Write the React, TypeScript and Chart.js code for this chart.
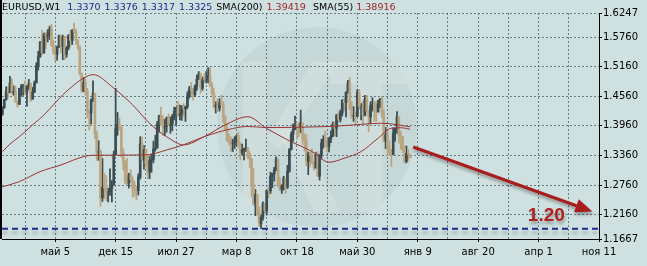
import { useEffect, useRef } from 'react';
import { Chart, registerables } from 'chart.js';
Chart.register(...registerables);

// week index 0 = 5 May 2008 (weekly bars)
const FIRST_WEEK = -28;
const X_MIN = -28.2;
const X_MAX = 288;

const opens = [
  1.4190, 1.4330, 1.4490, 1.4660, 1.4630, 1.4830, 1.4630, 1.4660, 1.4440, 1.4400,
  1.4720, 1.4750, 1.4780, 1.4640, 1.4760, 1.4820, 1.4500, 1.4650, 1.4830, 1.5180,
  1.5360, 1.5660, 1.5440, 1.5800, 1.5780, 1.5810, 1.5920, 1.5580, 1.5470, 1.5410,
  1.5560, 1.5790, 1.5570, 1.5770, 1.5410, 1.5540, 1.5790, 1.5690, 1.5900, 1.5860,
  1.5700, 1.5550, 1.5010, 1.4670, 1.4840, 1.4670, 1.4240, 1.4220, 1.4480, 1.4620,
  1.3800, 1.3420, 1.3440, 1.2500, 1.2720, 1.2700, 1.2620, 1.2620, 1.2690, 1.2760,
  1.3380, 1.3920, 1.3990, 1.3930, 1.3430, 1.3240, 1.2840, 1.2800, 1.2960, 1.2870,
  1.2690, 1.2660, 1.2650, 1.2920, 1.3590, 1.3270, 1.3480, 1.3190, 1.3020, 1.3260,
  1.3280, 1.3490, 1.3510, 1.3990, 1.4160, 1.3990, 1.3940, 1.3950, 1.4120, 1.3970,
  1.3990, 1.4150, 1.4250, 1.4330, 1.4180, 1.4200, 1.4320, 1.4300, 1.4350, 1.4570,
  1.4710, 1.4680, 1.4590, 1.4760, 1.4910, 1.5010, 1.4720, 1.4900, 1.4890, 1.4890,
  1.4980, 1.4780, 1.4610, 1.4350, 1.4380, 1.4320, 1.4410, 1.4380, 1.4140, 1.3870,
  1.3680, 1.3630, 1.3610, 1.3630, 1.3630, 1.3760, 1.3530, 1.3420, 1.3480, 1.3490,
  1.3510, 1.3370, 1.3290, 1.2760, 1.2390, 1.2570, 1.2250, 1.1970, 1.2110, 1.2380,
  1.2240, 1.2650, 1.2640, 1.2940, 1.2990, 1.3070, 1.3280, 1.2740, 1.2670, 1.2750,
  1.2900, 1.2720, 1.3040, 1.3480, 1.3790, 1.3890, 1.3960, 1.3950, 1.3940, 1.4020,
  1.3690, 1.3660, 1.3240, 1.3410, 1.3360, 1.3210, 1.3110, 1.3380, 1.2940, 1.3380,
  1.3610, 1.3690, 1.3590, 1.3540, 1.3700, 1.3750, 1.3990, 1.3910, 1.4180, 1.4090,
  1.4220, 1.4480, 1.4430, 1.4640, 1.4830, 1.4310, 1.4160, 1.4170, 1.4150, 1.4640,
  1.4350, 1.4350, 1.4170, 1.4500, 1.4260, 1.4140, 1.4370, 1.4400, 1.4280, 1.4240,
  1.4400, 1.4500, 1.4200, 1.3650, 1.3790, 1.3500, 1.3390, 1.3380, 1.3800, 1.3890,
  1.4140, 1.3760, 1.3740, 1.3520, 1.3240, 1.3400, 1.3370,
];

const highs = [
  1.4350, 1.4500, 1.4752, 1.4750, 1.4966, 1.4920, 1.4770, 1.4760, 1.4460, 1.4720,
  1.4800, 1.4800, 1.4870, 1.4780, 1.4900, 1.4830, 1.4740, 1.4870, 1.5240, 1.5470,
  1.5670, 1.5900, 1.5840, 1.5860, 1.5910, 1.5980, 1.6020, 1.5700, 1.5570, 1.5580,
  1.5800, 1.5800, 1.5800, 1.5780, 1.5570, 1.5810, 1.5900, 1.5910, 1.6040, 1.5920,
  1.5710, 1.5580, 1.5030, 1.4940, 1.4930, 1.4720, 1.4270, 1.4510, 1.4870, 1.4620,
  1.3860, 1.3660, 1.3470, 1.3300, 1.3000, 1.2950, 1.2700, 1.3090, 1.2850, 1.3450,
  1.4720, 1.4230, 1.4120, 1.3960, 1.3500, 1.3260, 1.3300, 1.3000, 1.3070, 1.2930,
  1.2830, 1.2740, 1.2990, 1.3740, 1.3740, 1.3560, 1.3490, 1.3380, 1.3340, 1.3390,
  1.3650, 1.3770, 1.4050, 1.4180, 1.4340, 1.4170, 1.4090, 1.4140, 1.4200, 1.4140,
  1.4190, 1.4340, 1.4330, 1.4450, 1.4380, 1.4370, 1.4410, 1.4360, 1.4650, 1.4760,
  1.4840, 1.4720, 1.4790, 1.4990, 1.5060, 1.5030, 1.4950, 1.5020, 1.5060, 1.5140,
  1.5140, 1.4840, 1.4720, 1.4450, 1.4510, 1.4510, 1.4580, 1.4450, 1.4170, 1.4000,
  1.3800, 1.3740, 1.3690, 1.3740, 1.3760, 1.3830, 1.3620, 1.3590, 1.3510, 1.3690,
  1.3520, 1.3440, 1.3300, 1.3100, 1.2670, 1.2570, 1.2320, 1.2160, 1.2420, 1.2390,
  1.2660, 1.2720, 1.3020, 1.3000, 1.3120, 1.3330, 1.3290, 1.2910, 1.2770, 1.2940,
  1.2900, 1.3160, 1.3500, 1.3840, 1.4000, 1.4160, 1.4000, 1.4030, 1.4280, 1.4020,
  1.3800, 1.3790, 1.3430, 1.3420, 1.3500, 1.3240, 1.3420, 1.3440, 1.3370, 1.3690,
  1.3760, 1.3860, 1.3700, 1.3720, 1.3860, 1.4040, 1.4040, 1.4190, 1.4250, 1.4280,
  1.4490, 1.4520, 1.4650, 1.4880, 1.4940, 1.4450, 1.4350, 1.4240, 1.4700, 1.4700,
  1.4410, 1.4460, 1.4580, 1.4580, 1.4280, 1.4450, 1.4530, 1.4460, 1.4460, 1.4480,
  1.4520, 1.4550, 1.4290, 1.3930, 1.3850, 1.3660, 1.3480, 1.3920, 1.3910, 1.4250,
  1.4140, 1.3850, 1.3750, 1.3550, 1.3550, 1.3480, 1.3376,
];

const lows = [
  1.4170, 1.4310, 1.4480, 1.4520, 1.4630, 1.4600, 1.4580, 1.4440, 1.4340, 1.4390,
  1.4560, 1.4580, 1.4600, 1.4360, 1.4700, 1.4450, 1.4500, 1.4630, 1.4830, 1.5090,
  1.5350, 1.5410, 1.5430, 1.5530, 1.5660, 1.5710, 1.5570, 1.5410, 1.5280, 1.5290,
  1.5550, 1.5440, 1.5300, 1.5300, 1.5350, 1.5500, 1.5560, 1.5610, 1.5840, 1.5610,
  1.5510, 1.4990, 1.4640, 1.4650, 1.4580, 1.4120, 1.3880, 1.4000, 1.4450, 1.3700,
  1.3260, 1.3260, 1.2330, 1.2430, 1.2490, 1.2450, 1.2420, 1.2550, 1.2420, 1.2760,
  1.3380, 1.3770, 1.3870, 1.3330, 1.3060, 1.2790, 1.2770, 1.2700, 1.2830, 1.2510,
  1.2530, 1.2460, 1.2560, 1.2880, 1.3250, 1.3080, 1.3130, 1.2890, 1.2890, 1.3020,
  1.3210, 1.3450, 1.3510, 1.3830, 1.3970, 1.3770, 1.3760, 1.3830, 1.3960, 1.3810,
  1.3860, 1.4080, 1.3980, 1.4150, 1.4080, 1.4070, 1.4140, 1.4050, 1.4310, 1.4520,
  1.4580, 1.4480, 1.4550, 1.4680, 1.4900, 1.4620, 1.4680, 1.4830, 1.4830, 1.4830,
  1.4760, 1.4580, 1.4320, 1.4220, 1.4250, 1.4260, 1.4380, 1.4030, 1.3860, 1.3640,
  1.3580, 1.3440, 1.3440, 1.3500, 1.3550, 1.3530, 1.3270, 1.3370, 1.3270, 1.3440,
  1.3290, 1.3120, 1.2520, 1.2350, 1.2140, 1.2150, 1.1920, 1.1877, 1.2050, 1.2190,
  1.2150, 1.2500, 1.2590, 1.2710, 1.2840, 1.3050, 1.2730, 1.2650, 1.2590, 1.2660,
  1.2590, 1.2690, 1.3020, 1.3470, 1.3650, 1.3880, 1.3690, 1.3740, 1.3820, 1.3580,
  1.3450, 1.3150, 1.2970, 1.3130, 1.3200, 1.3060, 1.3100, 1.2930, 1.2860, 1.3290,
  1.3510, 1.3540, 1.3430, 1.3430, 1.3620, 1.3740, 1.3760, 1.3740, 1.4030, 1.4040,
  1.4160, 1.4270, 1.4140, 1.4620, 1.4290, 1.4110, 1.4050, 1.3970, 1.4150, 1.4300,
  1.4080, 1.4000, 1.4160, 1.4240, 1.3840, 1.4010, 1.4260, 1.4050, 1.4050, 1.4240,
  1.4330, 1.4130, 1.3650, 1.3500, 1.3360, 1.3360, 1.3140, 1.3370, 1.3650, 1.3810,
  1.3610, 1.3480, 1.3420, 1.3210, 1.3210, 1.3260, 1.3317,
];

const closes = [
  1.4330, 1.4490, 1.4660, 1.4630, 1.4830, 1.4630, 1.4660, 1.4440, 1.4400, 1.4720,
  1.4750, 1.4780, 1.4640, 1.4760, 1.4820, 1.4500, 1.4650, 1.4830, 1.5180, 1.5360,
  1.5660, 1.5440, 1.5800, 1.5780, 1.5810, 1.5920, 1.5580, 1.5470, 1.5410, 1.5560,
  1.5790, 1.5570, 1.5770, 1.5410, 1.5540, 1.5790, 1.5690, 1.5900, 1.5860, 1.5700,
  1.5550, 1.5010, 1.4670, 1.4840, 1.4670, 1.4240, 1.4220, 1.4480, 1.4620, 1.3800,
  1.3420, 1.3440, 1.2500, 1.2720, 1.2700, 1.2620, 1.2620, 1.2690, 1.2760, 1.3380,
  1.3920, 1.3990, 1.3930, 1.3430, 1.3240, 1.2840, 1.2800, 1.2960, 1.2870, 1.2690,
  1.2660, 1.2650, 1.2920, 1.3590, 1.3270, 1.3480, 1.3190, 1.3020, 1.3260, 1.3280,
  1.3490, 1.3510, 1.3990, 1.4160, 1.3990, 1.3940, 1.3950, 1.4120, 1.3970, 1.3990,
  1.4150, 1.4250, 1.4330, 1.4180, 1.4200, 1.4320, 1.4300, 1.4350, 1.4570, 1.4710,
  1.4680, 1.4590, 1.4760, 1.4910, 1.5010, 1.4720, 1.4900, 1.4890, 1.4890, 1.4980,
  1.4780, 1.4610, 1.4350, 1.4380, 1.4320, 1.4410, 1.4380, 1.4140, 1.3870, 1.3680,
  1.3630, 1.3610, 1.3630, 1.3630, 1.3760, 1.3530, 1.3420, 1.3480, 1.3490, 1.3510,
  1.3370, 1.3290, 1.2760, 1.2390, 1.2570, 1.2250, 1.1970, 1.2110, 1.2380, 1.2240,
  1.2650, 1.2640, 1.2940, 1.2990, 1.3070, 1.3280, 1.2740, 1.2670, 1.2750, 1.2900,
  1.2720, 1.3040, 1.3480, 1.3790, 1.3890, 1.3960, 1.3950, 1.3940, 1.4020, 1.3690,
  1.3660, 1.3240, 1.3410, 1.3360, 1.3210, 1.3110, 1.3380, 1.2940, 1.3380, 1.3610,
  1.3690, 1.3590, 1.3540, 1.3700, 1.3750, 1.3990, 1.3910, 1.4180, 1.4090, 1.4220,
  1.4480, 1.4430, 1.4640, 1.4830, 1.4310, 1.4160, 1.4170, 1.4150, 1.4640, 1.4350,
  1.4350, 1.4170, 1.4500, 1.4260, 1.4140, 1.4370, 1.4400, 1.4280, 1.4240, 1.4400,
  1.4500, 1.4200, 1.3650, 1.3790, 1.3500, 1.3390, 1.3380, 1.3800, 1.3890, 1.4140,
  1.3760, 1.3740, 1.3520, 1.3240, 1.3400, 1.3380, 1.3325,
];

const sma200Weeks = [-28, -19, -8, 3, 15, 20, 48, 59, 68, 79, 94, 102, 112, 145, 156, 173, 188];
const sma200Values = [1.2724, 1.2830, 1.3033, 1.3167, 1.3337, 1.3364, 1.3370, 1.3471, 1.3577, 1.3743, 1.3906, 1.3947, 1.3926, 1.3947, 1.3973, 1.4013, 1.39419];

const sma55Weeks = [-28, -24, -19, -12, -6, -1, 4, 10, 15, 20, 31, 41, 49, 55, 59, 68, 79, 90, 102, 112, 124, 136, 145, 153, 162, 171, 178, 183, 188];
const sma55Values = [1.3435, 1.3590, 1.3740, 1.3979, 1.4179, 1.4385, 1.4588, 1.4791, 1.4927, 1.4998, 1.4724, 1.4385, 1.4048, 1.3845, 1.3739, 1.3573, 1.3743, 1.3979, 1.4145, 1.3906, 1.3658, 1.3439, 1.3222, 1.3303, 1.3439, 1.3709, 1.3912, 1.3922, 1.38916];

const supportLevel = 1.1876;
const arrowFrom = { x: 189.6, y: 1.3530 };
const arrowTo = { x: 284.5, y: 1.2225 };
const targetLabel = '1.20';
const targetPos = { x: 250.3, y: 1.2024 };

const gridWeeks = [-16, 0, 16, 32, 48, 64, 80, 96, 112, 128, 144, 160, 176, 192, 208, 224, 240, 256, 272, 288];
const labelWeeks = [0, 32, 64, 96, 128, 160, 192, 224, 256, 288];
const dateLabels = ['май 5', 'дек 15', 'июл 27', 'мар 8', 'окт 18', 'май 30', 'янв 9', 'авг 20', 'апр 1', 'ноя 11'];
const priceTicks = [1.1667, 1.2160, 1.2760, 1.3360, 1.3960, 1.4560, 1.5160, 1.5760, 1.6247];

const symbolLabel = 'EURUSD,W1';
const lastOHLC = ['1.3370', '1.3376', '1.3317', '1.3325'];
const sma200Label = 'SMA(200)';
const sma200Last = '1.39419';
const sma55Label = 'SMA(55)';
const sma55Last = '1.38916';

const BG = '#cfe0e0';
const UP = '#3a4d53';
const DOWN = '#bba580';
const FONT = '"DejaVu Sans", sans-serif';

export default function App() {
  const ref = useRef<HTMLCanvasElement>(null);
  useEffect(() => {
    document.body.style.margin = '0';
    const canvas = ref.current!;
    const weeks = opens.map((_, i) => FIRST_WEEK + i);
    const colors = closes.map((c, i) => (c >= opens[i] ? UP : DOWN));

    const bgPlugin = {
      id: 'mtBackground',
      beforeDraw(chart: any) {
        const { ctx, width, height } = chart;
        ctx.save();
        ctx.fillStyle = BG;
        ctx.fillRect(0, 0, width, height);
        // watermark logo (circle with light letter shapes)
        const cx = 317;
        const cy = 127;
        ctx.beginPath();
        ctx.arc(cx, cy, 100, 0, Math.PI * 2);
        ctx.fillStyle = 'rgba(150,170,170,0.15)';
        ctx.fill();
        ctx.clip();
        ctx.fillStyle = 'rgba(255,255,255,0.16)';
        // K
        ctx.fillRect(243, 62, 24, 150);
        ctx.beginPath();
        ctx.moveTo(267, 140);
        ctx.lineTo(312, 62);
        ctx.lineTo(338, 62);
        ctx.lineTo(280, 150);
        ctx.closePath();
        ctx.fill();
        ctx.beginPath();
        ctx.moveTo(278, 130);
        ctx.lineTo(300, 130);
        ctx.lineTo(340, 212);
        ctx.lineTo(314, 212);
        ctx.closePath();
        ctx.fill();
        // T
        ctx.fillRect(330, 62, 80, 22);
        ctx.fillRect(358, 84, 24, 128);
        ctx.restore();
      },
    };

    const overlayPlugin = {
      id: 'mtOverlay',
      beforeDatasetDraw(chart: any, args: any) {
        if (args.index === 4) {
          const ctx = chart.ctx;
          ctx.save();
          ctx.shadowColor = 'rgba(0,0,0,0.22)';
          ctx.shadowBlur = 3;
          ctx.shadowOffsetY = 4;
        }
      },
      afterDatasetDraw(chart: any, args: any) {
        if (args.index === 4) chart.ctx.restore();
      },
      afterDraw(chart: any) {
        const { ctx, scales, chartArea } = chart;
        const xs = scales.x;
        const ys = scales.y;
        ctx.save();
        // arrow
        const x1 = xs.getPixelForValue(arrowFrom.x);
        const y1 = ys.getPixelForValue(arrowFrom.y);
        const x2 = xs.getPixelForValue(arrowTo.x);
        const y2 = ys.getPixelForValue(arrowTo.y);
        const ang = Math.atan2(y2 - y1, x2 - x1);
        const headLen = 17;
        const headW = 7;
        ctx.shadowColor = 'rgba(0,0,0,0.3)';
        ctx.shadowBlur = 3;
        ctx.shadowOffsetX = 1;
        ctx.shadowOffsetY = 3;
        ctx.strokeStyle = '#a91d1d';
        ctx.fillStyle = '#a91d1d';
        ctx.lineWidth = 3.2;
        ctx.beginPath();
        ctx.moveTo(x1, y1);
        ctx.lineTo(x2 - headLen * Math.cos(ang), y2 - headLen * Math.sin(ang));
        ctx.stroke();
        ctx.beginPath();
        ctx.moveTo(x2, y2);
        const bx = x2 - headLen * Math.cos(ang);
        const by = y2 - headLen * Math.sin(ang);
        ctx.lineTo(bx + headW * Math.sin(ang), by - headW * Math.cos(ang));
        ctx.lineTo(bx - headW * Math.sin(ang), by + headW * Math.cos(ang));
        ctx.closePath();
        ctx.fill();
        // target text
        ctx.font = 'bold 19px "Liberation Sans", sans-serif';
        ctx.textBaseline = 'alphabetic';
        ctx.textAlign = 'left';
        ctx.fillStyle = '#b02020';
        ctx.fillText(targetLabel, xs.getPixelForValue(targetPos.x), ys.getPixelForValue(targetPos.y));
        ctx.restore();

        // frame left line
        ctx.save();
        ctx.fillStyle = '#000';
        ctx.fillRect(0, 0, 2, chartArea.bottom);
        ctx.restore();

        // header text
        ctx.save();
        ctx.font = '9.5px ' + FONT;
        ctx.textBaseline = 'alphabetic';
        ctx.textAlign = 'left';
        let x = 2;
        const y = 10;
        const put = (t: string, c: string, gap: number) => {
          ctx.fillStyle = c;
          ctx.fillText(t, x, y);
          x += ctx.measureText(t).width + gap;
        };
        put(symbolLabel, '#000', 7);
        lastOHLC.forEach((v) => put(v, '#1c2a8c', 4));
        put(sma200Label, '#000', 4);
        put(sma200Last, '#a02828', 0);
        x = 313;
        put(sma55Label, '#000', 3);
        put(sma55Last, '#a02828', 0);
        ctx.restore();
      },
    };

    const chart = new Chart(canvas, {
      type: 'bar',
      data: {
        datasets: [
          {
            type: 'bar',
            label: 'hl',
            data: weeks.map((w, i) => ({ x: w, y: [lows[i], highs[i]] })) as any,
            backgroundColor: colors,
            barThickness: 1.1,
            grouped: false,
            order: 4,
          } as any,
          {
            type: 'bar',
            label: 'oc',
            data: weeks.map((w, i) => ({ x: w, y: [Math.min(opens[i], closes[i]), Math.max(opens[i], closes[i])] })) as any,
            backgroundColor: colors,
            barThickness: 2,
            grouped: false,
            order: 3,
          } as any,
          {
            type: 'line',
            label: sma200Label,
            data: sma200Weeks.map((w, i) => ({ x: w, y: sma200Values[i] })),
            borderColor: '#9a3434',
            borderWidth: 1,
            pointRadius: 0,
            cubicInterpolationMode: 'monotone',
            order: 2,
          } as any,
          {
            type: 'line',
            label: sma55Label,
            data: sma55Weeks.map((w, i) => ({ x: w, y: sma55Values[i] })),
            borderColor: '#9a3434',
            borderWidth: 1,
            pointRadius: 0,
            cubicInterpolationMode: 'monotone',
            order: 1,
          } as any,
          {
            type: 'line',
            label: 'support',
            data: [
              { x: X_MIN, y: supportLevel },
              { x: X_MAX, y: supportLevel },
            ],
            borderColor: '#1b2a8c',
            borderWidth: 2,
            borderDash: [6, 4],
            pointRadius: 0,
            order: 0,
          } as any,
        ],
      },
      options: {
        responsive: false,
        animation: false,
        devicePixelRatio: 1,
        layout: { padding: { top: 13, left: 2, right: 0, bottom: 0 } },
        plugins: { legend: { display: false }, tooltip: { enabled: false } },
        scales: {
          x: {
            type: 'linear',
            min: X_MIN,
            max: X_MAX,
            offset: false,
            afterBuildTicks: (s: any) => {
              s.ticks = gridWeeks.map((v) => ({ value: v }));
            },
            afterFit: (s: any) => {
              s.height = 27;
            },
            grid: {
              offset: false,
              color: 'rgba(70,92,100,0.75)',
              lineWidth: 1,
              drawTicks: true,
              tickLength: 3,
              tickColor: (c: any) => (c.tick && labelWeeks.includes(c.tick.value) ? '#000' : 'rgba(0,0,0,0)'),
            },
            border: { display: true, color: '#000', width: 1, dash: [2, 2] },
            ticks: {
              autoSkip: false,
              maxRotation: 0,
              padding: 4,
              color: '#000',
              font: { family: FONT, size: 10 },
              callback: (v: any) => {
                const k = labelWeeks.indexOf(Number(v));
                return k >= 0 ? dateLabels[k] : '';
              },
            },
          },
          y: {
            type: 'linear',
            position: 'right',
            min: priceTicks[0],
            max: priceTicks[priceTicks.length - 1],
            afterBuildTicks: (s: any) => {
              s.ticks = priceTicks.map((v) => ({ value: v }));
            },
            afterFit: (s: any) => {
              s.width = 48;
            },
            grid: {
              color: 'rgba(70,92,100,0.75)',
              lineWidth: 1,
              drawTicks: true,
              tickLength: 3,
              tickColor: '#000',
            },
            border: { display: true, color: '#000', width: 1, dash: [2, 2] },
            ticks: {
              padding: 1,
              color: '#000',
              font: { family: FONT, size: 10 },
              callback: (v: any) => Number(v).toFixed(4),
            },
          },
        },
      },
      plugins: [bgPlugin, overlayPlugin],
    } as any);
    return () => chart.destroy();
  }, []);
  return (
    <div style={{ width: 647, height: 266 }}>
      <canvas ref={ref} width={647} height={266} style={{ display: 'block' }} />
    </div>
  );
}
